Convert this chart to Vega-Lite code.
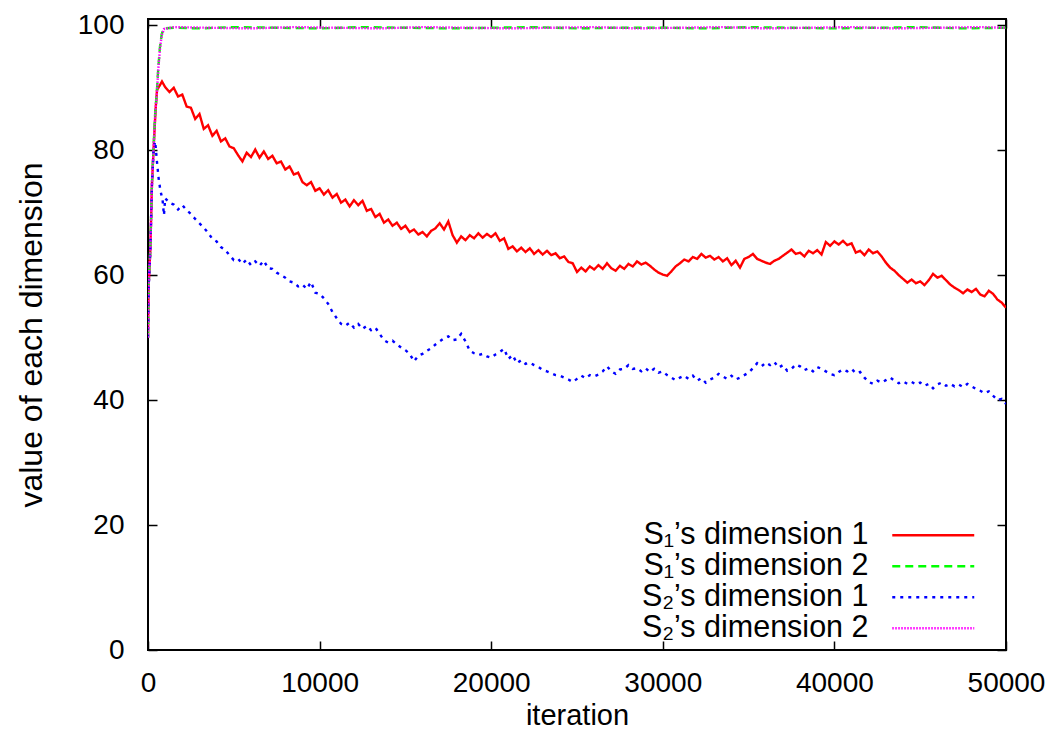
{
"$schema":"https://vega.github.io/schema/vega-lite/v6.json",
"width":858,"height":631,
"autosize":{"type":"none"},
"padding":{"left":148,"top":19,"right":50,"bottom":86},
"background":"white",
"config":{"view":{"stroke":"black","strokeWidth":2},"font":"Liberation Sans",
"axis":{"grid":false,"domain":false,"tickColor":"black","tickWidth":1.5,"tickSize":-9,"labelColor":"black","labelFont":"Liberation Sans","labelFontSize":28,"labelFlush":false,"labelOverlap":false,"titleFont":"Liberation Sans","titleFontSize":29,"titleFontWeight":"normal","titleColor":"black"}},
"data":{"values":[
{"series":"S1d1","iteration":0,"value":50},{"series":"S1d1","iteration":40,"value":58.5},{"series":"S1d1","iteration":135,"value":64},{"series":"S1d1","iteration":230,"value":74.5},{"series":"S1d1","iteration":330,"value":80.5},{"series":"S1d1","iteration":450,"value":86.8},{"series":"S1d1","iteration":525,"value":89.6},{"series":"S1d1","iteration":650,"value":90.2},{"series":"S1d1","iteration":815,"value":91},{"series":"S1d1","iteration":1000,"value":90.1},{"series":"S1d1","iteration":1250,"value":89.3},{"series":"S1d1","iteration":1500,"value":90.0},{"series":"S1d1","iteration":1750,"value":88.6},{"series":"S1d1","iteration":2000,"value":88.9},{"series":"S1d1","iteration":2250,"value":87.0},{"series":"S1d1","iteration":2500,"value":86.8},{"series":"S1d1","iteration":2750,"value":85.0},{"series":"S1d1","iteration":3000,"value":85.8},{"series":"S1d1","iteration":3250,"value":83.4},{"series":"S1d1","iteration":3500,"value":84.0},{"series":"S1d1","iteration":3750,"value":82.3},{"series":"S1d1","iteration":4000,"value":83.1},{"series":"S1d1","iteration":4250,"value":81.4},{"series":"S1d1","iteration":4500,"value":81.9},{"series":"S1d1","iteration":4750,"value":80.6},{"series":"S1d1","iteration":5000,"value":80.3},{"series":"S1d1","iteration":5250,"value":79.2},{"series":"S1d1","iteration":5500,"value":78.2},{"series":"S1d1","iteration":5750,"value":79.6},{"series":"S1d1","iteration":6000,"value":78.9},{"series":"S1d1","iteration":6250,"value":80.1},{"series":"S1d1","iteration":6500,"value":78.8},{"series":"S1d1","iteration":6750,"value":79.8},{"series":"S1d1","iteration":7000,"value":78.6},{"series":"S1d1","iteration":7250,"value":79.1},{"series":"S1d1","iteration":7500,"value":77.9},{"series":"S1d1","iteration":7750,"value":78.2},{"series":"S1d1","iteration":8000,"value":76.9},{"series":"S1d1","iteration":8250,"value":77.4},{"series":"S1d1","iteration":8500,"value":76.1},{"series":"S1d1","iteration":8750,"value":76.4},{"series":"S1d1","iteration":9000,"value":74.9},{"series":"S1d1","iteration":9250,"value":74.4},{"series":"S1d1","iteration":9500,"value":74.9},{"series":"S1d1","iteration":9750,"value":73.5},{"series":"S1d1","iteration":10000,"value":73.9},{"series":"S1d1","iteration":10250,"value":72.9},{"series":"S1d1","iteration":10500,"value":73.6},{"series":"S1d1","iteration":10750,"value":72.4},{"series":"S1d1","iteration":11000,"value":73.0},{"series":"S1d1","iteration":11250,"value":71.6},{"series":"S1d1","iteration":11500,"value":72.1},{"series":"S1d1","iteration":11750,"value":71.0},{"series":"S1d1","iteration":12000,"value":72.0},{"series":"S1d1","iteration":12250,"value":71.2},{"series":"S1d1","iteration":12500,"value":71.9},{"series":"S1d1","iteration":12750,"value":70.3},{"series":"S1d1","iteration":13000,"value":70.6},{"series":"S1d1","iteration":13250,"value":69.3},{"series":"S1d1","iteration":13500,"value":69.8},{"series":"S1d1","iteration":13750,"value":68.4},{"series":"S1d1","iteration":14000,"value":68.9},{"series":"S1d1","iteration":14250,"value":67.9},{"series":"S1d1","iteration":14500,"value":68.4},{"series":"S1d1","iteration":14750,"value":67.4},{"series":"S1d1","iteration":15000,"value":67.9},{"series":"S1d1","iteration":15250,"value":66.9},{"series":"S1d1","iteration":15500,"value":67.3},{"series":"S1d1","iteration":15750,"value":66.5},{"series":"S1d1","iteration":16000,"value":66.9},{"series":"S1d1","iteration":16250,"value":66.2},{"series":"S1d1","iteration":16500,"value":67.1},{"series":"S1d1","iteration":16750,"value":67.5},{"series":"S1d1","iteration":17000,"value":68.3},{"series":"S1d1","iteration":17250,"value":67.3},{"series":"S1d1","iteration":17500,"value":68.6},{"series":"S1d1","iteration":17750,"value":66.4},{"series":"S1d1","iteration":18000,"value":65.2},{"series":"S1d1","iteration":18250,"value":66.2},{"series":"S1d1","iteration":18500,"value":65.6},{"series":"S1d1","iteration":18750,"value":66.4},{"series":"S1d1","iteration":19000,"value":65.9},{"series":"S1d1","iteration":19250,"value":66.7},{"series":"S1d1","iteration":19500,"value":66.0},{"series":"S1d1","iteration":19750,"value":66.6},{"series":"S1d1","iteration":20000,"value":66.1},{"series":"S1d1","iteration":20250,"value":66.7},{"series":"S1d1","iteration":20500,"value":65.5},{"series":"S1d1","iteration":20750,"value":65.9},{"series":"S1d1","iteration":21000,"value":64.2},{"series":"S1d1","iteration":21250,"value":64.6},{"series":"S1d1","iteration":21500,"value":63.8},{"series":"S1d1","iteration":21750,"value":64.4},{"series":"S1d1","iteration":22000,"value":63.7},{"series":"S1d1","iteration":22250,"value":64.3},{"series":"S1d1","iteration":22500,"value":63.4},{"series":"S1d1","iteration":22750,"value":64.0},{"series":"S1d1","iteration":23000,"value":63.3},{"series":"S1d1","iteration":23250,"value":63.9},{"series":"S1d1","iteration":23500,"value":63.2},{"series":"S1d1","iteration":23750,"value":63.5},{"series":"S1d1","iteration":24000,"value":62.7},{"series":"S1d1","iteration":24250,"value":63.0},{"series":"S1d1","iteration":24500,"value":62.1},{"series":"S1d1","iteration":24750,"value":61.9},{"series":"S1d1","iteration":25000,"value":60.5},{"series":"S1d1","iteration":25250,"value":61.2},{"series":"S1d1","iteration":25500,"value":60.6},{"series":"S1d1","iteration":25750,"value":61.4},{"series":"S1d1","iteration":26000,"value":60.9},{"series":"S1d1","iteration":26250,"value":61.6},{"series":"S1d1","iteration":26500,"value":61.0},{"series":"S1d1","iteration":26750,"value":61.9},{"series":"S1d1","iteration":27000,"value":61.1},{"series":"S1d1","iteration":27250,"value":60.7},{"series":"S1d1","iteration":27500,"value":61.5},{"series":"S1d1","iteration":27750,"value":61.0},{"series":"S1d1","iteration":28000,"value":61.8},{"series":"S1d1","iteration":28250,"value":61.4},{"series":"S1d1","iteration":28500,"value":62.2},{"series":"S1d1","iteration":28750,"value":61.7},{"series":"S1d1","iteration":29000,"value":62.0},{"series":"S1d1","iteration":29250,"value":61.5},{"series":"S1d1","iteration":29500,"value":60.9},{"series":"S1d1","iteration":29750,"value":60.4},{"series":"S1d1","iteration":30000,"value":60.1},{"series":"S1d1","iteration":30250,"value":59.9},{"series":"S1d1","iteration":30500,"value":60.6},{"series":"S1d1","iteration":30750,"value":61.4},{"series":"S1d1","iteration":31000,"value":61.9},{"series":"S1d1","iteration":31250,"value":62.5},{"series":"S1d1","iteration":31500,"value":62.2},{"series":"S1d1","iteration":31750,"value":62.9},{"series":"S1d1","iteration":32000,"value":62.6},{"series":"S1d1","iteration":32250,"value":63.4},{"series":"S1d1","iteration":32500,"value":62.8},{"series":"S1d1","iteration":32750,"value":63.1},{"series":"S1d1","iteration":33000,"value":62.5},{"series":"S1d1","iteration":33250,"value":62.9},{"series":"S1d1","iteration":33500,"value":62.2},{"series":"S1d1","iteration":33750,"value":62.7},{"series":"S1d1","iteration":34000,"value":61.6},{"series":"S1d1","iteration":34250,"value":62.3},{"series":"S1d1","iteration":34500,"value":61.2},{"series":"S1d1","iteration":34750,"value":62.6},{"series":"S1d1","iteration":35000,"value":62.9},{"series":"S1d1","iteration":35250,"value":63.4},{"series":"S1d1","iteration":35500,"value":62.6},{"series":"S1d1","iteration":35750,"value":62.3},{"series":"S1d1","iteration":36000,"value":62.0},{"series":"S1d1","iteration":36250,"value":61.8},{"series":"S1d1","iteration":36500,"value":62.3},{"series":"S1d1","iteration":36750,"value":62.6},{"series":"S1d1","iteration":37000,"value":63.1},{"series":"S1d1","iteration":37250,"value":63.6},{"series":"S1d1","iteration":37500,"value":64.1},{"series":"S1d1","iteration":37750,"value":63.4},{"series":"S1d1","iteration":38000,"value":63.6},{"series":"S1d1","iteration":38250,"value":63.0},{"series":"S1d1","iteration":38500,"value":63.9},{"series":"S1d1","iteration":38750,"value":63.5},{"series":"S1d1","iteration":39000,"value":64.0},{"series":"S1d1","iteration":39250,"value":63.3},{"series":"S1d1","iteration":39500,"value":65.3},{"series":"S1d1","iteration":39750,"value":64.7},{"series":"S1d1","iteration":40000,"value":65.4},{"series":"S1d1","iteration":40250,"value":64.9},{"series":"S1d1","iteration":40500,"value":65.5},{"series":"S1d1","iteration":40750,"value":64.8},{"series":"S1d1","iteration":41000,"value":65.1},{"series":"S1d1","iteration":41250,"value":63.6},{"series":"S1d1","iteration":41500,"value":63.9},{"series":"S1d1","iteration":41750,"value":63.2},{"series":"S1d1","iteration":42000,"value":64.1},{"series":"S1d1","iteration":42250,"value":63.5},{"series":"S1d1","iteration":42500,"value":63.8},{"series":"S1d1","iteration":42750,"value":63.0},{"series":"S1d1","iteration":43000,"value":62.0},{"series":"S1d1","iteration":43250,"value":61.2},{"series":"S1d1","iteration":43500,"value":60.7},{"series":"S1d1","iteration":43750,"value":60.0},{"series":"S1d1","iteration":44000,"value":59.4},{"series":"S1d1","iteration":44250,"value":58.8},{"series":"S1d1","iteration":44500,"value":59.3},{"series":"S1d1","iteration":44750,"value":58.7},{"series":"S1d1","iteration":45000,"value":59.0},{"series":"S1d1","iteration":45250,"value":58.4},{"series":"S1d1","iteration":45500,"value":59.2},{"series":"S1d1","iteration":45750,"value":60.2},{"series":"S1d1","iteration":46000,"value":59.6},{"series":"S1d1","iteration":46250,"value":59.9},{"series":"S1d1","iteration":46500,"value":59.2},{"series":"S1d1","iteration":46750,"value":58.5},{"series":"S1d1","iteration":47000,"value":58.0},{"series":"S1d1","iteration":47250,"value":57.6},{"series":"S1d1","iteration":47500,"value":57.1},{"series":"S1d1","iteration":47750,"value":57.7},{"series":"S1d1","iteration":48000,"value":57.3},{"series":"S1d1","iteration":48250,"value":57.8},{"series":"S1d1","iteration":48500,"value":56.9},{"series":"S1d1","iteration":48750,"value":56.6},{"series":"S1d1","iteration":49000,"value":57.5},{"series":"S1d1","iteration":49250,"value":57.0},{"series":"S1d1","iteration":49500,"value":56.1},{"series":"S1d1","iteration":49750,"value":55.6},{"series":"S1d1","iteration":50000,"value":54.8},
{"series":"S1d2","iteration":0,"value":50},{"series":"S1d2","iteration":40,"value":58.6},{"series":"S1d2","iteration":135,"value":64.2},{"series":"S1d2","iteration":230,"value":74.8},{"series":"S1d2","iteration":330,"value":80.8},{"series":"S1d2","iteration":420,"value":86},{"series":"S1d2","iteration":520,"value":89.6},{"series":"S1d2","iteration":600,"value":93.2},{"series":"S1d2","iteration":700,"value":96.6},{"series":"S1d2","iteration":800,"value":98.6},{"series":"S1d2","iteration":930,"value":99.5},{"series":"S1d2","iteration":1500,"value":99.6},{"series":"S1d2","iteration":3000,"value":99.5},{"series":"S1d2","iteration":5000,"value":99.7},{"series":"S1d2","iteration":7500,"value":99.6},{"series":"S1d2","iteration":10000,"value":99.5},{"series":"S1d2","iteration":12500,"value":99.7},{"series":"S1d2","iteration":15000,"value":99.6},{"series":"S1d2","iteration":17500,"value":99.5},{"series":"S1d2","iteration":20000,"value":99.6},{"series":"S1d2","iteration":22500,"value":99.7},{"series":"S1d2","iteration":25000,"value":99.5},{"series":"S1d2","iteration":27500,"value":99.6},{"series":"S1d2","iteration":30000,"value":99.6},{"series":"S1d2","iteration":32500,"value":99.5},{"series":"S1d2","iteration":35000,"value":99.7},{"series":"S1d2","iteration":37500,"value":99.6},{"series":"S1d2","iteration":40000,"value":99.5},{"series":"S1d2","iteration":42500,"value":99.6},{"series":"S1d2","iteration":45000,"value":99.7},{"series":"S1d2","iteration":47500,"value":99.5},{"series":"S1d2","iteration":50000,"value":99.6},
{"series":"S2d1","iteration":0,"value":50},{"series":"S2d1","iteration":40,"value":58.2},{"series":"S2d1","iteration":135,"value":63.8},{"series":"S2d1","iteration":230,"value":74.5},{"series":"S2d1","iteration":330,"value":80.3},{"series":"S2d1","iteration":420,"value":81.4},{"series":"S2d1","iteration":520,"value":78.2},{"series":"S2d1","iteration":620,"value":75.5},{"series":"S2d1","iteration":720,"value":73.6},{"series":"S2d1","iteration":850,"value":72.0},{"series":"S2d1","iteration":930,"value":69.6},{"series":"S2d1","iteration":1000,"value":72.3},{"series":"S2d1","iteration":1250,"value":71.6},{"series":"S2d1","iteration":1500,"value":71.3},{"series":"S2d1","iteration":1750,"value":70.5},{"series":"S2d1","iteration":2000,"value":71.2},{"series":"S2d1","iteration":2250,"value":70.4},{"series":"S2d1","iteration":2500,"value":69.8},{"series":"S2d1","iteration":2750,"value":69.0},{"series":"S2d1","iteration":3000,"value":68.3},{"series":"S2d1","iteration":3250,"value":67.6},{"series":"S2d1","iteration":3500,"value":66.8},{"series":"S2d1","iteration":3750,"value":65.8},{"series":"S2d1","iteration":4000,"value":65.4},{"series":"S2d1","iteration":4250,"value":64.5},{"series":"S2d1","iteration":4500,"value":64.0},{"series":"S2d1","iteration":4750,"value":63.2},{"series":"S2d1","iteration":5000,"value":62.4},{"series":"S2d1","iteration":5250,"value":62.6},{"series":"S2d1","iteration":5500,"value":61.8},{"series":"S2d1","iteration":5750,"value":62.5},{"series":"S2d1","iteration":6000,"value":61.6},{"series":"S2d1","iteration":6250,"value":62.2},{"series":"S2d1","iteration":6500,"value":61.5},{"series":"S2d1","iteration":6750,"value":62.3},{"series":"S2d1","iteration":7000,"value":61.1},{"series":"S2d1","iteration":7250,"value":61.0},{"series":"S2d1","iteration":7500,"value":60.4},{"series":"S2d1","iteration":7750,"value":60.0},{"series":"S2d1","iteration":8000,"value":59.6},{"series":"S2d1","iteration":8250,"value":59.0},{"series":"S2d1","iteration":8500,"value":58.8},{"series":"S2d1","iteration":8750,"value":58.2},{"series":"S2d1","iteration":9000,"value":58.5},{"series":"S2d1","iteration":9250,"value":57.8},{"series":"S2d1","iteration":9500,"value":58.9},{"series":"S2d1","iteration":9750,"value":57.2},{"series":"S2d1","iteration":10000,"value":57.0},{"series":"S2d1","iteration":10250,"value":56.3},{"series":"S2d1","iteration":10500,"value":55.4},{"series":"S2d1","iteration":10750,"value":54.1},{"series":"S2d1","iteration":11000,"value":53.1},{"series":"S2d1","iteration":11250,"value":52.2},{"series":"S2d1","iteration":11500,"value":51.9},{"series":"S2d1","iteration":11750,"value":52.4},{"series":"S2d1","iteration":12000,"value":51.6},{"series":"S2d1","iteration":12250,"value":52.2},{"series":"S2d1","iteration":12500,"value":51.4},{"series":"S2d1","iteration":12750,"value":51.9},{"series":"S2d1","iteration":13000,"value":51.2},{"series":"S2d1","iteration":13250,"value":51.6},{"series":"S2d1","iteration":13500,"value":50.6},{"series":"S2d1","iteration":13750,"value":49.6},{"series":"S2d1","iteration":14000,"value":49.2},{"series":"S2d1","iteration":14250,"value":49.5},{"series":"S2d1","iteration":14500,"value":48.9},{"series":"S2d1","iteration":14750,"value":48.4},{"series":"S2d1","iteration":15000,"value":48.0},{"series":"S2d1","iteration":15250,"value":47.4},{"series":"S2d1","iteration":15500,"value":46.2},{"series":"S2d1","iteration":15750,"value":47.1},{"series":"S2d1","iteration":16000,"value":47.4},{"series":"S2d1","iteration":16250,"value":47.9},{"series":"S2d1","iteration":16500,"value":48.3},{"series":"S2d1","iteration":16750,"value":48.9},{"series":"S2d1","iteration":17000,"value":49.4},{"series":"S2d1","iteration":17250,"value":49.9},{"series":"S2d1","iteration":17500,"value":50.2},{"series":"S2d1","iteration":17750,"value":49.6},{"series":"S2d1","iteration":18000,"value":49.7},{"series":"S2d1","iteration":18250,"value":50.6},{"series":"S2d1","iteration":18500,"value":49.4},{"series":"S2d1","iteration":18750,"value":47.9},{"series":"S2d1","iteration":19000,"value":47.5},{"series":"S2d1","iteration":19250,"value":47.2},{"series":"S2d1","iteration":19500,"value":47.4},{"series":"S2d1","iteration":19750,"value":47.0},{"series":"S2d1","iteration":20000,"value":46.8},{"series":"S2d1","iteration":20250,"value":47.3},{"series":"S2d1","iteration":20500,"value":47.7},{"series":"S2d1","iteration":20750,"value":48.2},{"series":"S2d1","iteration":21000,"value":46.6},{"series":"S2d1","iteration":21250,"value":47.2},{"series":"S2d1","iteration":21500,"value":45.9},{"series":"S2d1","iteration":21750,"value":46.4},{"series":"S2d1","iteration":22000,"value":45.8},{"series":"S2d1","iteration":22250,"value":46.0},{"series":"S2d1","iteration":22500,"value":45.6},{"series":"S2d1","iteration":22750,"value":45.3},{"series":"S2d1","iteration":23000,"value":44.8},{"series":"S2d1","iteration":23250,"value":44.6},{"series":"S2d1","iteration":23500,"value":44.3},{"series":"S2d1","iteration":23750,"value":44.0},{"series":"S2d1","iteration":24000,"value":43.9},{"series":"S2d1","iteration":24250,"value":43.6},{"series":"S2d1","iteration":24500,"value":43.3},{"series":"S2d1","iteration":24750,"value":42.9},{"series":"S2d1","iteration":25000,"value":43.4},{"series":"S2d1","iteration":25250,"value":43.9},{"series":"S2d1","iteration":25500,"value":43.5},{"series":"S2d1","iteration":25750,"value":44.0},{"series":"S2d1","iteration":26000,"value":43.8},{"series":"S2d1","iteration":26250,"value":44.1},{"series":"S2d1","iteration":26500,"value":44.6},{"series":"S2d1","iteration":26750,"value":45.4},{"series":"S2d1","iteration":27000,"value":44.6},{"series":"S2d1","iteration":27250,"value":44.2},{"series":"S2d1","iteration":27500,"value":44.9},{"series":"S2d1","iteration":27750,"value":45.0},{"series":"S2d1","iteration":28000,"value":45.6},{"series":"S2d1","iteration":28250,"value":45.0},{"series":"S2d1","iteration":28500,"value":45.1},{"series":"S2d1","iteration":28750,"value":44.6},{"series":"S2d1","iteration":29000,"value":45.1},{"series":"S2d1","iteration":29250,"value":44.5},{"series":"S2d1","iteration":29500,"value":45.0},{"series":"S2d1","iteration":29750,"value":44.4},{"series":"S2d1","iteration":30000,"value":44.6},{"series":"S2d1","iteration":30250,"value":44.0},{"series":"S2d1","iteration":30500,"value":43.6},{"series":"S2d1","iteration":30750,"value":43.2},{"series":"S2d1","iteration":31000,"value":43.6},{"series":"S2d1","iteration":31250,"value":43.9},{"series":"S2d1","iteration":31500,"value":43.4},{"series":"S2d1","iteration":31750,"value":43.9},{"series":"S2d1","iteration":32000,"value":43.1},{"series":"S2d1","iteration":32250,"value":43.5},{"series":"S2d1","iteration":32500,"value":42.8},{"series":"S2d1","iteration":32750,"value":43.3},{"series":"S2d1","iteration":33000,"value":43.6},{"series":"S2d1","iteration":33250,"value":44.2},{"series":"S2d1","iteration":33500,"value":43.8},{"series":"S2d1","iteration":33750,"value":43.4},{"series":"S2d1","iteration":34000,"value":43.9},{"series":"S2d1","iteration":34250,"value":43.3},{"series":"S2d1","iteration":34500,"value":43.6},{"series":"S2d1","iteration":34750,"value":44.0},{"series":"S2d1","iteration":35000,"value":44.4},{"series":"S2d1","iteration":35250,"value":45.1},{"series":"S2d1","iteration":35500,"value":45.9},{"series":"S2d1","iteration":35750,"value":45.4},{"series":"S2d1","iteration":36000,"value":46.0},{"series":"S2d1","iteration":36250,"value":45.6},{"series":"S2d1","iteration":36500,"value":46.1},{"series":"S2d1","iteration":36750,"value":45.2},{"series":"S2d1","iteration":37000,"value":45.6},{"series":"S2d1","iteration":37250,"value":44.7},{"series":"S2d1","iteration":37500,"value":45.0},{"series":"S2d1","iteration":37750,"value":45.7},{"series":"S2d1","iteration":38000,"value":45.4},{"series":"S2d1","iteration":38250,"value":44.8},{"series":"S2d1","iteration":38500,"value":45.1},{"series":"S2d1","iteration":38750,"value":44.6},{"series":"S2d1","iteration":39000,"value":45.3},{"series":"S2d1","iteration":39250,"value":45.0},{"series":"S2d1","iteration":39500,"value":44.6},{"series":"S2d1","iteration":39750,"value":44.2},{"series":"S2d1","iteration":40000,"value":44.0},{"series":"S2d1","iteration":40250,"value":44.5},{"series":"S2d1","iteration":40500,"value":44.9},{"series":"S2d1","iteration":40750,"value":44.6},{"series":"S2d1","iteration":41000,"value":45.0},{"series":"S2d1","iteration":41250,"value":44.3},{"series":"S2d1","iteration":41500,"value":44.5},{"series":"S2d1","iteration":41750,"value":43.6},{"series":"S2d1","iteration":42000,"value":42.9},{"series":"S2d1","iteration":42250,"value":42.6},{"series":"S2d1","iteration":42500,"value":43.1},{"series":"S2d1","iteration":42750,"value":42.8},{"series":"S2d1","iteration":43000,"value":43.2},{"series":"S2d1","iteration":43250,"value":43.6},{"series":"S2d1","iteration":43500,"value":43.1},{"series":"S2d1","iteration":43750,"value":42.7},{"series":"S2d1","iteration":44000,"value":43.0},{"series":"S2d1","iteration":44250,"value":42.6},{"series":"S2d1","iteration":44500,"value":42.9},{"series":"S2d1","iteration":44750,"value":42.5},{"series":"S2d1","iteration":45000,"value":42.8},{"series":"S2d1","iteration":45250,"value":42.3},{"series":"S2d1","iteration":45500,"value":42.6},{"series":"S2d1","iteration":45750,"value":41.9},{"series":"S2d1","iteration":46000,"value":42.5},{"series":"S2d1","iteration":46250,"value":42.8},{"series":"S2d1","iteration":46500,"value":42.3},{"series":"S2d1","iteration":46750,"value":42.6},{"series":"S2d1","iteration":47000,"value":42.2},{"series":"S2d1","iteration":47250,"value":42.5},{"series":"S2d1","iteration":47500,"value":42.1},{"series":"S2d1","iteration":47750,"value":42.6},{"series":"S2d1","iteration":48000,"value":42.2},{"series":"S2d1","iteration":48250,"value":41.8},{"series":"S2d1","iteration":48500,"value":41.5},{"series":"S2d1","iteration":48750,"value":41.1},{"series":"S2d1","iteration":49000,"value":41.4},{"series":"S2d1","iteration":49250,"value":40.7},{"series":"S2d1","iteration":49500,"value":40.0},{"series":"S2d1","iteration":49750,"value":40.2},{"series":"S2d1","iteration":50000,"value":39.4},
{"series":"S2d2","iteration":0,"value":50},{"series":"S2d2","iteration":40,"value":58.4},{"series":"S2d2","iteration":135,"value":64},{"series":"S2d2","iteration":230,"value":74.6},{"series":"S2d2","iteration":330,"value":80.6},{"series":"S2d2","iteration":420,"value":85.8},{"series":"S2d2","iteration":520,"value":89.3},{"series":"S2d2","iteration":600,"value":93},{"series":"S2d2","iteration":700,"value":96.3},{"series":"S2d2","iteration":800,"value":98.4},{"series":"S2d2","iteration":930,"value":99.4},{"series":"S2d2","iteration":1500,"value":99.7},{"series":"S2d2","iteration":3500,"value":99.6},{"series":"S2d2","iteration":6000,"value":99.5},{"series":"S2d2","iteration":8500,"value":99.7},{"series":"S2d2","iteration":11000,"value":99.6},{"series":"S2d2","iteration":13500,"value":99.5},{"series":"S2d2","iteration":16000,"value":99.7},{"series":"S2d2","iteration":18500,"value":99.6},{"series":"S2d2","iteration":21000,"value":99.5},{"series":"S2d2","iteration":23500,"value":99.6},{"series":"S2d2","iteration":26000,"value":99.7},{"series":"S2d2","iteration":28500,"value":99.5},{"series":"S2d2","iteration":31000,"value":99.6},{"series":"S2d2","iteration":33500,"value":99.7},{"series":"S2d2","iteration":36000,"value":99.5},{"series":"S2d2","iteration":38500,"value":99.6},{"series":"S2d2","iteration":41000,"value":99.7},{"series":"S2d2","iteration":43500,"value":99.5},{"series":"S2d2","iteration":46000,"value":99.6},{"series":"S2d2","iteration":48500,"value":99.7},{"series":"S2d2","iteration":50000,"value":99.6}
]},
"layer":[
{"mark":{"type":"line","strokeWidth":2.4,"clip":true},
 "encoding":{
  "x":{"field":"iteration","type":"quantitative","scale":{"domain":[0,50000],"nice":false,"zero":false},"axis":{"orient":"bottom","values":[0,10000,20000,30000,40000,50000],"format":"d","title":"iteration","labelPadding":28,"titlePadding":4}},
  "y":{"field":"value","type":"quantitative","scale":{"domain":[0,101],"nice":false},"axis":{"orient":"left","values":[0,20,40,60,80,100],"title":"value of each dimension","titleFontSize":32,"labelPadding":33,"titlePadding":29}},
  "color":{"field":"series","type":"nominal","sort":["S1d1","S1d2","S2d1","S2d2"],"scale":{"domain":["S1d1","S1d2","S2d1","S2d2"],"range":["#ff0000","#00ff00","#0000ff","#ff00ff"]},
   "legend":{"orient":"none","legendX":732,"legendY":501,"title":null,"labelAlign":"right","labelOffset":-80,"symbolOffset":38,"symbolType":"M-4,0H4","symbolSize":420,"symbolStrokeWidth":2.5,"labelFontSize":30.5,"labelFont":"Liberation Sans","labelColor":"black","labelLimit":400,"rowPadding":0,"padding":0,
   "labelExpr":"datum.label == 'S1d1' ? 'S₁’s dimension 1' : datum.label == 'S1d2' ? 'S₁’s dimension 2' : datum.label == 'S2d1' ? 'S₂’s dimension 1' : 'S₂’s dimension 2'"}},
  "strokeDash":{"field":"series","type":"nominal","sort":["S1d1","S1d2","S2d1","S2d2"],"scale":{"domain":["S1d1","S1d2","S2d1","S2d2"],"range":[[1,0],[8,5],[3,5],[1.5,1.5]]},
   "legend":{"orient":"none","legendX":732,"legendY":501,"title":null,"labelAlign":"right","labelOffset":-80,"symbolOffset":38,"symbolType":"M-4,0H4","symbolSize":420,"symbolStrokeWidth":2.5,"labelFontSize":30.5,"labelFont":"Liberation Sans","labelColor":"black","labelLimit":400,"rowPadding":0,"padding":0,
   "labelExpr":"datum.label == 'S1d1' ? 'S₁’s dimension 1' : datum.label == 'S1d2' ? 'S₁’s dimension 2' : datum.label == 'S2d1' ? 'S₂’s dimension 1' : 'S₂’s dimension 2'"}}
 }},
{"mark":{"type":"line","opacity":0},
 "encoding":{
  "x":{"field":"iteration","type":"quantitative","axis":{"orient":"top","values":[0,10000,20000,30000,40000,50000],"labels":false,"title":null}},
  "y":{"field":"value","type":"quantitative","axis":{"orient":"right","values":[0,20,40,60,80,100],"labels":false,"title":null}},
  "detail":{"field":"series","type":"nominal"}
 }}
],
"resolve":{"axis":{"x":"independent","y":"independent"}}
}
